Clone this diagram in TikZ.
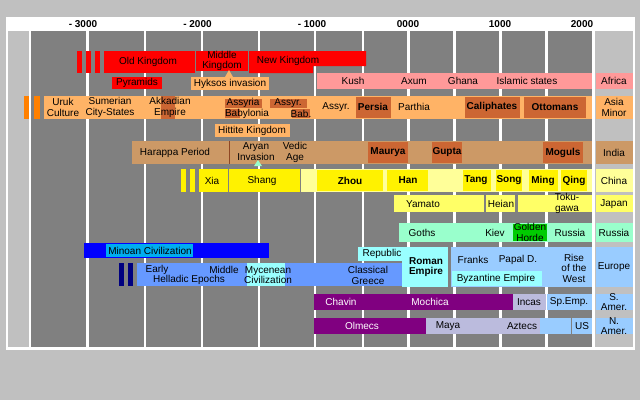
\documentclass[tikz,border=0pt]{standalone}
\usepackage{fontspec}
\setmainfont{Liberation Sans}
\definecolor{panelgray}{HTML}{C0C0C0}
\definecolor{colgray}{HTML}{808080}
\definecolor{kushpink}{HTML}{FF9999}
\definecolor{lorange}{HTML}{FFB366}
\definecolor{dorange}{HTML}{CC6633}
\definecolor{borange}{HTML}{FF8000}
\definecolor{indiatan}{HTML}{CC9966}
\definecolor{pyellow}{HTML}{FFFF99}
\definecolor{jyellow}{HTML}{FFFF66}
\definecolor{aqua}{HTML}{99FFCC}
\definecolor{horde}{HTML}{00CC00}
\definecolor{lblue}{HTML}{99CCFF}
\definecolor{lcyan}{HTML}{99FFFF}
\definecolor{mblue}{HTML}{6699FF}
\definecolor{navyblue}{HTML}{000080}
\definecolor{amerpurple}{HTML}{800080}
\definecolor{lavender}{HTML}{BBBBDD}

\begin{document}
\begin{tikzpicture}[x=1pt,y=-1pt,
    lab/.style={font=\fontsize{10}{10.5}\selectfont,align=center,inner sep=0pt},
    blab/.style={lab,font=\fontsize{10}{10.5}\selectfont\bfseries}]
    \useasboundingbox (0,0) rectangle (640,400);
    % Background and panel
    \fill[panelgray] (0,0) rectangle (640,400);
    \fill[white] (6,17) rectangle (635,350);
    \fill[panelgray] (8,31) rectangle (29,347);
    \fill[panelgray] (595,31) rectangle (633,347);
    \fill[colgray] (31,31) rectangle (592,347);
    % Century columns
    \foreach \cx in {87.5,145,202,259,315,363,408.5,454.5,500.5,546.5}
      \draw[white,line width=2.7pt] (\cx,31) -- (\cx,347);
    % Year scale
    \node[blab] (ym3000) at (83,24) {- 3000};
    \node[blab] (ym2000) at (197.5,24) {- 2000};
    \node[blab] (ym1000) at (312,24) {- 1000};
    \node[blab] (y0000) at (408,24) {0000};
    \node[blab] (y1000) at (500,24) {1000};
    \node[blab] (y2000) at (582,24) {2000};

    % Egypt
    \fill[red] (77,51) rectangle (82,73);
    \fill[red] (86,51) rectangle (91,73);
    \fill[red] (95,51) rectangle (100,73);
    \fill[red] (104,51) rectangle (195,73);
    \fill[red] (196,51) rectangle (248,71);
    \fill[red] (249,51) -- (366,51) -- (366,66) -- (313,66) -- (313,73) -- (249,73) -- cycle;
    \node[lab] (oldking) at (148,62) {Old Kingdom};
    \node[lab] (midking) at (222,61) {Middle\\Kingdom};
    \node[lab] (newking) at (288,61) {New Kingdom};
    \fill[red] (112,77) rectangle (162,89);
    \node[lab] (pyramids) at (137,83) {Pyramids};
    \fill[lorange] (225,77) -- (229,70) -- (233,77) -- cycle;
    \fill[lorange] (191,77) rectangle (269,90);
    \node[lab] (hyksos) at (230,83.5) {Hyksos invasion};

    % Africa
    \fill[kushpink] (317,73) rectangle (592,89);
    \node[lab] (kush) at (353,81) {Kush};
    \node[lab] (axum) at (414,81) {Axum};
    \node[lab] (ghana) at (463,81) {Ghana};
    \node[lab] (islamic) at (527,81) {Islamic states};
    \fill[kushpink] (596,73) rectangle (633,89);
    \node[lab] (africa) at (614,81) {Africa};

    % Asia Minor
    \fill[borange] (24,96) rectangle (29,119);
    \fill[borange] (34,96) rectangle (40,119);
    \fill[lorange] (44,96) rectangle (592,119);
    \fill[dorange] (161,96) rectangle (175,119);
    \fill[dorange] (225,99) rectangle (262,108);
    \fill[dorange] (225,109) rectangle (240,118);
    \fill[dorange] (270,99) rectangle (307,108);
    \fill[dorange] (292,109) rectangle (310,118);
    \fill[dorange] (356,97) rectangle (391,118);
    \fill[dorange] (465,97) rectangle (520,118);
    \fill[dorange] (524,97) rectangle (586,118);
    \node[lab] (uruk) at (63,107.5) {Uruk\\Culture};
    \node[lab] (sumer) at (110,107.5) {Sumerian\\City-States};
    \node[lab] (akkad) at (170,107.5) {Akkadian\\Empire};
    \node[lab] (assyria) at (243,103) {Assyria};
    \node[lab] (babylon) at (247,114) {Babylonia};
    \node[lab] (assyrA) at (288,103) {Assyr.};
    \node[lab] (babA) at (301,114) {Bab.};
    \node[lab] (assyrB) at (336,107) {Assyr.};
    \node[blab] (persia) at (373,107) {Persia};
    \node[lab] (parthia) at (414,107) {Parthia};
    \node[blab] (caliph) at (492,107) {Caliphates};
    \node[blab] (ottoman) at (555,107) {Ottomans};
    \fill[lorange] (596,96) rectangle (633,119);
    \node[lab] (asiaminor) at (614,107.5) {Asia\\Minor};
    \fill[lorange] (215,124) rectangle (290,137);
    \node[lab] (hittite) at (252,130.5) {Hittite Kingdom};

    % India
    \fill[indiatan] (132,141) rectangle (592,164);
    \draw[dorange!70!black,line width=0.6pt] (229,141) -- (229,164);
    \fill[dorange] (368,142) rectangle (408,163);
    \fill[dorange] (432,142) rectangle (462,163);
    \fill[dorange] (543,142) rectangle (583,163);
    \node[lab] (harappa) at (175,152.5) {Harappa Period};
    \node[lab] (aryan) at (256,151.5) {Aryan\\Invasion};
    \node[lab] (vedic) at (295,152.5) {Vedic\\Age};
    \node[blab] (maurya) at (388,152.5) {Maurya};
    \node[blab] (gupta) at (447,152.5) {Gupta};
    \node[blab] (moguls) at (563,152.5) {Moguls};
    \fill[indiatan] (596,141) rectangle (633,164);
    \node[lab] (india) at (614,152.5) {India};
    \fill[aqua] (254,166) -- (258,160) -- (262,166) -- cycle;

    % China
    \fill[yellow] (181,169) rectangle (186,192);
    \fill[yellow] (190,169) rectangle (195,192);
    \fill[yellow] (199,169) rectangle (227.5,192);
    \fill[yellow] (228.5,169) rectangle (300,192);
    \fill[pyellow] (301,169) rectangle (592,192);
    \fill[yellow] (317,170) rectangle (383,191);
    \fill[yellow] (387,170) rectangle (428,191);
    \fill[yellow] (463,170) rectangle (491,191);
    \fill[yellow] (496,170) rectangle (522,191);
    \fill[yellow] (529,170) rectangle (558,191);
    \fill[yellow] (561,170) rectangle (587,191);
    \node[lab] (xia) at (212,180.5) {Xia};
    \node[lab] (shang) at (262,180.5) {Shang};
    \node[blab] (zhou) at (350,180.5) {Zhou};
    \node[blab] (han) at (408,180.5) {Han};
    \node[blab] (tang) at (476,180.5) {Tang};
    \node[blab] (song) at (509,180.5) {Song};
    \node[blab] (ming) at (543,180.5) {Ming};
    \node[blab] (qing) at (574,180.5) {Qing};
    \fill[pyellow] (596,169) rectangle (633,192);
    \node[lab] (china) at (614,180.5) {China};

    % Japan
    \fill[jyellow] (394,195) rectangle (484,212);
    \fill[jyellow] (486,195) rectangle (515,212);
    \fill[jyellow] (518,195) rectangle (592,212);
    \node[lab] (yamato) at (423,204) {Yamato};
    \node[lab] (heian) at (501,204) {Heian};
    \node[lab] (tokugawa) at (567,203.5) {Toku-\\gawa};
    \fill[jyellow] (596,195) rectangle (633,212);
    \node[lab] (japan) at (614,204) {Japan};

    % Russia
    \fill[aqua] (399,223) rectangle (592,242);
    \fill[horde] (513,224) rectangle (547,241);
    \node[lab] (goths) at (422,232.5) {Goths};
    \node[lab] (kiev) at (495,232.5) {Kiev};
    \node[lab] (golden) at (530,232.5) {Golden\\Horde};
    \node[lab] (russiaA) at (570,232.5) {Russia};
    \fill[aqua] (596,223) rectangle (633,242);
    \node[lab] (russia) at (614,232.5) {Russia};

    % Europe
    \fill[blue] (84,243) rectangle (269,258);
    \fill[cyan] (106,244) rectangle (193,257);
    \node[lab] (minoan) at (150,250.5) {Minoan Civilization};
    \fill[navyblue] (119,263) rectangle (124,286);
    \fill[navyblue] (128,263) rectangle (133,286);
    \fill[mblue] (137,263) rectangle (402,286);
    \fill[lcyan] (247,263) rectangle (285,286);
    \node[lab] (early) at (157,270) {Early};
    \node[lab] (middle) at (224,270) {Middle};
    \node[lab] (helladic) at (189,280) {Helladic Epochs};
    \node[lab] (mycenean) at (268,275) {Mycenean\\Civilization};
    \node[lab] (classical) at (368,275.5) {Classical\\Greece};
    \fill[lcyan] (358,247) rectangle (402,261);
    \node[lab] (republic) at (382,254) {Republic};
    \fill[lcyan] (402,247) rectangle (448,287);
    \node[blab] (roman) at (426,267) {Roman\\Empire};
    \fill[lblue] (451,247) rectangle (592,287);
    \fill[lcyan] (452,271) rectangle (542,286);
    \node[lab] (franks) at (473,260) {Franks};
    \node[lab] (papal) at (518,260) {Papal D.};
    \node[lab] (byzant) at (496,278.5) {Byzantine Empire};
    \node[lab] (risewest) at (574,268) {Rise\\of the\\West};
    \fill[lblue] (596,247) rectangle (633,287);
    \node[lab] (europe) at (614,267) {Europe};

    % South America
    \fill[amerpurple] (314,294) rectangle (513,310);
    \fill[lavender] (513,294) rectangle (546,310);
    \fill[lblue] (547,294) rectangle (592,310);
    \node[lab,white] (chavin) at (341,302) {Chavin};
    \node[lab,white] (mochica) at (430,302) {Mochica};
    \node[lab] (incas) at (529,302) {Incas};
    \node[lab] (spemp) at (569,302) {Sp.Emp.};
    \fill[lblue] (596,294) rectangle (633,310);
    \node[lab] (samer) at (614,302) {S.\\Amer.};

    % North America
    \fill[amerpurple] (314,318) rectangle (426,334);
    \fill[lavender] (426,318) rectangle (540,334);
    \fill[lblue] (540,318) rectangle (571,334);
    \fill[lblue] (572,318) rectangle (592,334);
    \node[lab,white] (olmecs) at (362,326) {Olmecs};
    \node[lab] (maya) at (448,326) {Maya};
    \node[lab] (aztecs) at (522,326) {Aztecs};
    \node[lab] (us) at (582,326) {US};
    \fill[lblue] (596,318) rectangle (633,334);
    \node[lab] (namer) at (614,326) {N.\\Amer.};
  \end{tikzpicture}
\end{document}
